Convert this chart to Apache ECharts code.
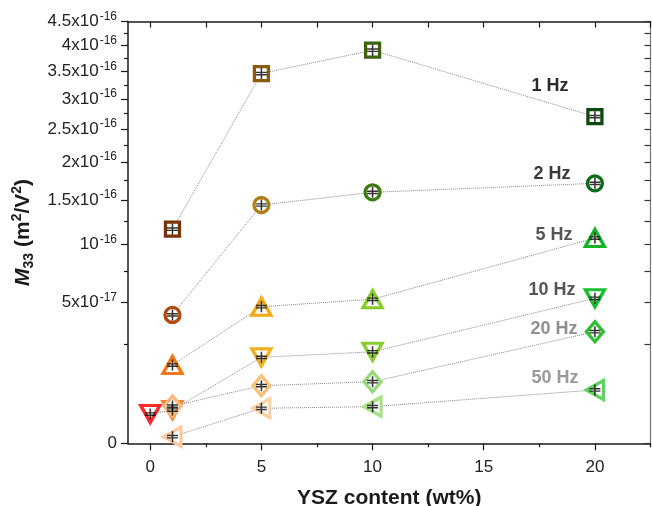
<!DOCTYPE html>
<html><head><meta charset="utf-8">
<script src="https://cdn.jsdelivr.net/npm/echarts@6/dist/echarts.min.js"></script>
<style>html,body{margin:0;padding:0;background:#fff}#c{width:652px;height:506px}</style>
</head><body><div id="c"></div>
<script>
// ---- data ----
const seriesNames = ['1 Hz', '2 Hz', '5 Hz', '10 Hz', '20 Hz', '50 Hz'];
const xContent = [1, 5, 10, 20];
const xContent10Hz = [0, 1, 5, 10, 20];
const m33_1Hz = [1.16e-16, 3.46e-16, 3.91e-16, 2.70e-16];
const m33_2Hz = [0.417e-16, 1.437e-16, 1.594e-16, 1.710e-16];
const m33_5Hz = [0.155e-16, 0.472e-16, 0.525e-16, 1.066e-16];
const m33_10Hz = [0.0217e-16, 0.028e-16, 0.187e-16, 0.212e-16, 0.532e-16];
const m33_20Hz = [0.035e-16, 0.084e-16, 0.096e-16, 0.315e-16];
const m33_50Hz = [0.0011e-16, 0.031e-16, 0.034e-16, 0.072e-16];

const xMajorTicks = [0, 5, 10, 15, 20];
const xMinorTicks = [2.5, 7.5, 12.5, 17.5, 22.5];
const xTopTicks = [0, 2.5, 5, 7.5, 10, 12.5, 15, 17.5, 20, 22.5];
const yMajorTicks = [0, 5e-17, 1e-16, 1.5e-16, 2e-16, 2.5e-16, 3e-16, 3.5e-16, 4e-16, 4.5e-16];
const yMinorTicks = [2.5e-17, 7.5e-17, 1.25e-16, 1.75e-16, 2.25e-16, 2.75e-16, 3.25e-16, 3.75e-16, 4.25e-16];
const yTickMantissa = ['0', '5x10', '10', '1.5x10', '2x10', '2.5x10', '3x10', '3.5x10', '4x10', '4.5x10'];
const yTickExponent = ['', '-17', '-16', '-16', '-16', '-16', '-16', '-16', '-16', '-16'];

// ---- styles ----
const seriesStyles = [
  { symbol: 'rect', size: 14, rotate: 0, labelColor: '#2a2a2a', labelOffset: [-45, -31],
    colors: ['#7a3208', '#8c5a0c', '#3c6410', '#0c4a12'] },
  { symbol: 'circle', size: 15, rotate: 0, labelColor: '#3a3a3a', labelOffset: [-43, -9],
    colors: ['#b04a10', '#b08010', '#3c7c10', '#0c6c18'] },
  { symbol: 'triangle', size: [19, 17], rotate: 0, labelColor: '#555555', labelOffset: [-41, -3],
    colors: ['#f07818', '#f5a810', '#88cc28', '#18b428'] },
  { symbol: 'triangle', size: [19, 17], rotate: 180, labelColor: '#555555', labelOffset: [-43, -8],
    colors: ['#ff2a2a', '#f08a30', '#f0b020', '#88cc30', '#18c030'] },
  { symbol: 'diamond', size: [17, 20], rotate: 0, labelColor: '#8f8f8f', labelOffset: [-41, -3],
    colors: ['#f8b880', '#f8c078', '#98d878', '#30c030'] },
  { symbol: 'triangle', size: [19, 17], rotate: 90, labelColor: '#999999', labelOffset: [-40, -12],
    colors: ['#fcc8a0', '#fcd0a0', '#a8e088', '#60d060'] }
];

const UNIT = 1e-16;
const toScale = v => Math.sqrt(v / UNIT); // square-root axis
const Y_MAX = toScale(4.5e-16);

const allX = [xContent, xContent, xContent, xContent10Hz, xContent, xContent];
const allY = [m33_1Hz, m33_2Hz, m33_5Hz, m33_10Hz, m33_20Hz, m33_50Hz];

const FONT = '"Liberation Sans", Arial, sans-serif';
const errGlyph = 'path://M4.3,0H5.7V10H4.3Z M0,3.3H10V4.6H0Z M0,5.4H10V6.7H0Z';

const series = [];
seriesNames.forEach((name, i) => {
  const st = seriesStyles[i];
  const xs = allX[i], ys = allY[i];
  const data = xs.map((x, j) => {
    const item = {
      value: [x, toScale(ys[j])],
      itemStyle: { color: '#ffffff', borderColor: st.colors[j], borderWidth: 3.3 }
    };
    if (j === xs.length - 1) {
      item.label = {
        show: true, position: 'inside', offset: st.labelOffset,
        formatter: name, fontFamily: FONT, fontSize: 18, fontWeight: 'bold', color: st.labelColor
      };
    }
    return item;
  });
  series.push({
    name, type: 'line', data, symbol: st.symbol, symbolSize: st.size, symbolRotate: st.rotate,
    showAllSymbol: true, z: 3,
    lineStyle: { color: '#8a8a8a', width: 1, type: 'dotted' },
    emphasis: { disabled: true }, silent: true
  });
  series.push({
    name: name + ' err', type: 'scatter', z: 4, silent: true,
    symbol: errGlyph, symbolSize: [11, 11],
    itemStyle: { color: '#000000' },
    data: xs.map((x, j) => [x, toScale(ys[j])])
  });
});

function yLabel(value) {
  for (let i = 0; i < yMajorTicks.length; i++) {
    if (Math.abs(toScale(yMajorTicks[i]) - value) < 1e-6) {
      return yTickExponent[i] ? '{b|' + yTickMantissa[i] + '}{s|' + yTickExponent[i] + '}' : '{b|' + yTickMantissa[i] + '}';
    }
  }
  return '';
}

const axisBlack = { lineStyle: { color: '#1a1a1a', width: 1.5 } };
const chart = echarts.init(document.getElementById('c'), null, { renderer: 'canvas' });
chart.setOption({
  animation: false,
  backgroundColor: '#ffffff',
  grid: { left: 128, right: 1.5, top: 21.6, bottom: 62.7, containLabel: false, outerBoundsMode: 'none' },
  xAxis: [
    { type: 'value', position: 'bottom', min: -1, max: 22.5,
      axisLine: { show: true, onZero: false, ...axisBlack },
      axisTick: { show: true, inside: false, length: 7, customValues: xMajorTicks, lineStyle: { color: '#1a1a1a', width: 1.2 } },
      axisLabel: { show: true, customValues: xMajorTicks, margin: 16, fontFamily: FONT, fontSize: 17, color: '#222' },
      splitLine: { show: false },
      name: 'YSZ content (wt%)', nameLocation: 'middle', nameGap: 44, nameMoveOverlap: false,
      nameTextStyle: { fontFamily: FONT, fontSize: 21, fontWeight: 'bold', color: '#1a1a1a' } },
    { type: 'value', position: 'bottom', min: -1, max: 22.5,
      axisLine: { show: false, onZero: false },
      axisTick: { show: true, inside: false, length: 4, customValues: xMinorTicks, lineStyle: { color: '#1a1a1a', width: 1.2 } },
      axisLabel: { show: false }, splitLine: { show: false } },
    { type: 'value', position: 'top', min: -1, max: 22.5,
      axisLine: { show: true, onZero: false, ...axisBlack },
      axisTick: { show: true, inside: true, length: 6, customValues: xTopTicks, lineStyle: { color: '#1a1a1a', width: 1.2 } },
      axisLabel: { show: false }, splitLine: { show: false } }
  ],
  yAxis: [
    { type: 'value', position: 'left', min: 0, max: Y_MAX,
      axisLine: { show: true, onZero: false, ...axisBlack },
      axisTick: { show: true, inside: false, length: 7, customValues: yMajorTicks.map(toScale), lineStyle: { color: '#1a1a1a', width: 1.2 } },
      axisLabel: { show: true, customValues: yMajorTicks.map(toScale), margin: 11, formatter: yLabel,
        rich: {
          b: { fontFamily: FONT, fontSize: 17, color: '#222', lineHeight: 22 },
          s: { fontFamily: FONT, fontSize: 12, color: '#222', verticalAlign: 'top', lineHeight: 12, padding: [0, 0, 0, 1] }
        } },
      splitLine: { show: false },
      name: '{i|M}{sub|33}{n| (m}{sup|2}{n|/V}{sup|2}{n|)}', nameLocation: 'middle', nameGap: 92, nameRotate: 90,
      nameMoveOverlap: false,
      nameTextStyle: {
        rich: {
          i: { fontFamily: FONT, fontSize: 21, fontWeight: 'bold', fontStyle: 'italic', color: '#1a1a1a', lineHeight: 26 },
          sub: { fontFamily: FONT, fontSize: 14, fontWeight: 'bold', color: '#1a1a1a', verticalAlign: 'bottom', lineHeight: 14 },
          n: { fontFamily: FONT, fontSize: 21, fontWeight: 'bold', color: '#1a1a1a', lineHeight: 26 },
          sup: { fontFamily: FONT, fontSize: 14, fontWeight: 'bold', color: '#1a1a1a', verticalAlign: 'top', lineHeight: 14 }
        } } },
    { type: 'value', position: 'left', min: 0, max: Y_MAX,
      axisLine: { show: false, onZero: false },
      axisTick: { show: true, inside: false, length: 4, customValues: yMinorTicks.map(toScale), lineStyle: { color: '#1a1a1a', width: 1.2 } },
      axisLabel: { show: false }, splitLine: { show: false } },
    { type: 'value', position: 'right', min: 0, max: Y_MAX,
      axisLine: { show: true, onZero: false, lineStyle: { color: '#777', width: 1.2 } },
      axisTick: { show: true, inside: true, length: 6, customValues: yMajorTicks.concat(yMinorTicks).map(toScale), lineStyle: { color: '#333', width: 1.2 } },
      axisLabel: { show: false }, splitLine: { show: false } }
  ],
  series
});
</script></body></html>
